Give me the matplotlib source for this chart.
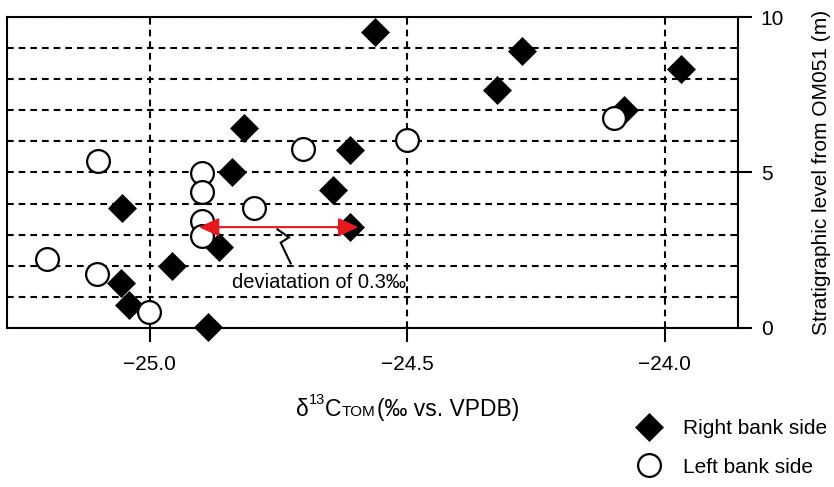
import matplotlib
matplotlib.use('Agg')
import matplotlib.pyplot as plt
from matplotlib.ticker import FixedLocator

FONT = ['Liberation Sans', 'Arimo', 'DejaVu Sans']
plt.rcParams['font.family'] = FONT

# ---- data ----
right_x = [-24.563, -24.278, -23.969, -24.325, -24.079, -24.817, -24.611, -24.841,
           -24.644, -25.055, -24.611, -24.866, -24.958, -25.056, -25.040, -24.888]
right_y = [9.52, 8.91, 8.32, 7.66, 7.01, 6.42, 5.72, 5.03,
           4.44, 3.85, 3.25, 2.61, 1.99, 1.45, 0.72, 0.03]

left_x = [-24.099, -24.501, -24.702, -25.100, -24.898, -24.898, -24.798, -24.898,
          -24.898, -25.199, -25.102, -25.002]
left_y = [6.75, 6.05, 5.75, 5.37, 4.97, 4.36, 3.87, 3.44, 2.97, 2.22, 1.73, 0.52]

x_ticks = [-25.0, -24.5, -24.0]
x_tick_labels = ['\u221225.0', '\u221224.5', '\u221224.0']
y_ticks = [0, 5, 10]
y_tick_labels = ['0', '5', '10']
y_grid = [1, 2, 3, 4, 6, 7, 8, 9]

series_labels = ['Right bank side', 'Left bank side']
ylabel = 'Stratigraphic level from OM051 (m)'
note_text = 'deviatation of 0.3\u2030'

# annotation geometry (data units)
arrow_x0, arrow_x1, arrow_y = -24.905, -24.595, 3.24
zig_x = [-24.7525, -24.730, -24.746, -24.7266]
zig_y = [3.17, 2.91, 2.74, 2.07]
note_x, note_y = -24.840, 1.27

RED = '#e6191e'
FS = 15

fig = plt.figure(figsize=(8.34, 4.87), dpi=100)
ax = fig.add_axes([0.00875, 0.3271, 0.8767, 0.6374])
ax.set_xlim(-25.277, -23.857)
ax.set_ylim(0, 10)

ax.plot(right_x, right_y, ls='none', marker='D', ms=14.5, mfc='k', mec='k', mew=0.5,
        clip_on=False, zorder=3, label=series_labels[0])
ax.plot(left_x, left_y, ls='none', marker='o', ms=16.4, mfc='white', mec='k', mew=1.6,
        clip_on=False, zorder=4, label=series_labels[1])

# ticks
ax.yaxis.tick_right()
ax.yaxis.set_label_position('right')
ax.set_xticks(x_ticks)
ax.set_xticklabels(x_tick_labels)
ax.set_yticks(y_ticks)
ax.set_yticklabels(y_tick_labels)
ax.yaxis.set_minor_locator(FixedLocator(y_grid))
ax.tick_params(which='major', direction='out', length=10, width=1.5, labelsize=FS, color='k')
ax.tick_params(axis='x', pad=10)
ax.tick_params(axis='y', pad=6)
ax.tick_params(which='minor', length=0)

dash = (0, (3.2, 2.4))
ax.grid(True, axis='x', which='major', ls=dash, color='k', lw=1.5)
ax.grid(True, axis='y', which='both', ls=dash, color='k', lw=1.5)
for s in ax.spines.values():
    s.set_linewidth(1.5)
    s.set_color('k')

ax.set_ylabel(ylabel, fontsize=FS, labelpad=20)

# red double arrow
ax.annotate('', xy=(arrow_x1, arrow_y), xytext=(arrow_x0, arrow_y),
            arrowprops=dict(arrowstyle='<|-|>,head_length=1.22,head_width=0.56',
                            mutation_scale=10, color=RED, lw=1.5,
                            shrinkA=0, shrinkB=0), zorder=6)
ax.plot(zig_x, zig_y, color='k', lw=1.5, solid_joinstyle='miter', zorder=5)
ax.text(note_x, note_y, note_text, fontsize=14.5, ha='left', va='baseline', zorder=5)

# x label built from pieces: delta, superscript 13, C, small TOM on the baseline
XL = 16.5
t1 = fig.text(296 / 834, 1 - 416 / 487, '\u03b4', fontsize=XL, ha='left', va='baseline')
t2 = ax.annotate('13', xy=(1, 0), xycoords=t1, xytext=(0, 10.4), textcoords='offset points',
                 fontsize=10.5, ha='left', va='bottom', annotation_clip=False)
t3 = ax.annotate('C', xy=(1, 0), xycoords=t2, xytext=(0, -10.4), textcoords='offset points',
                 fontsize=XL, ha='left', va='bottom', annotation_clip=False)
t4 = ax.annotate('TOM', xy=(1, 0), xycoords=t3, xytext=(0, 1.16), textcoords='offset points',
                 fontsize=11, ha='left', va='bottom', annotation_clip=False)
t5 = ax.annotate('(\u2030 vs. VPDB)', xy=(1, 0), xycoords=t4, xytext=(1.2, -1.16),
                 textcoords='offset points', fontsize=XL, ha='left', va='bottom',
                 annotation_clip=False)

leg = ax.legend(loc='center left', bbox_to_anchor=(628.5 / 834, 1 - 448 / 487),
                bbox_transform=fig.transFigure, frameon=False, borderpad=0,
                handlelength=2.0, handletextpad=0.62, labelspacing=0.94,
                fontsize=FS, numpoints=1, borderaxespad=0)

fig.savefig('out.png', dpi=100)
